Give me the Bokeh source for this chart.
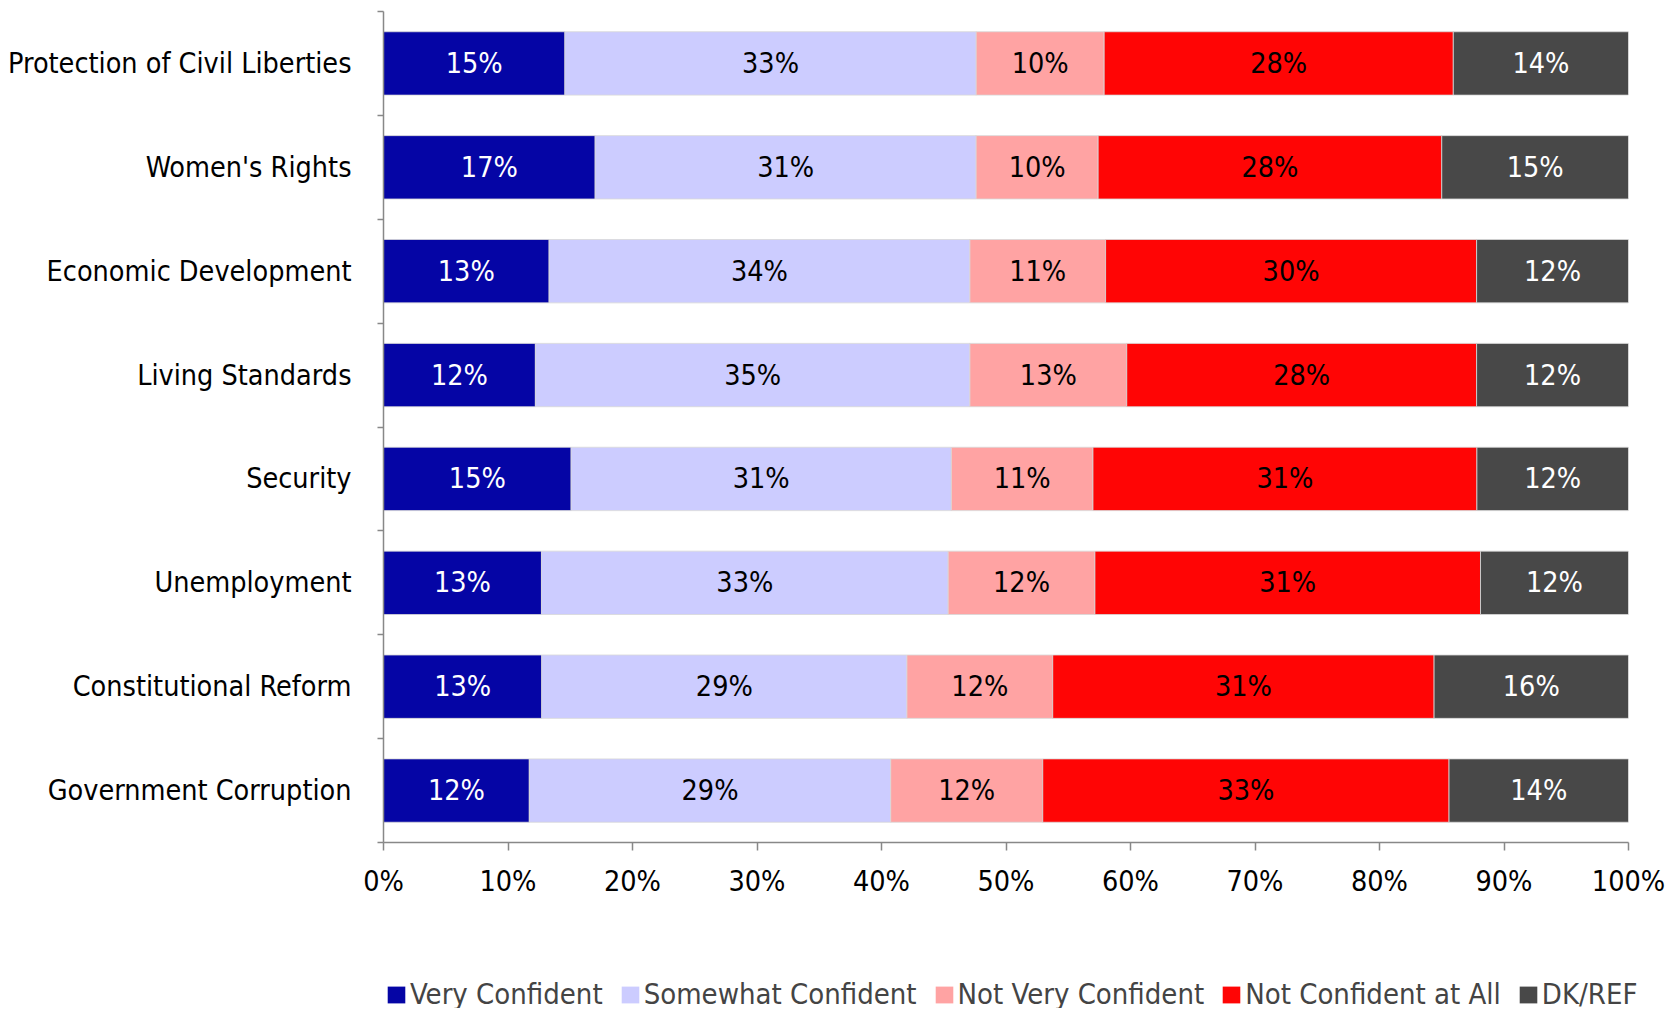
from bokeh.plotting import figure
from bokeh.layouts import column
from bokeh.models import (Range1d, FixedTicker, Legend, LegendItem, ColumnDataSource,
                          CustomJSTickFormatter)
from bokeh.core.properties import value
from bokeh.embed import file_html
from bokeh.resources import INLINE

categories = ["Protection of Civil Liberties", "Women's Rights", "Economic Development",
              "Living Standards", "Security", "Unemployment", "Constitutional Reform",
              "Government Corruption"]
series_names = ["Very Confident", "Somewhat Confident", "Not Very Confident",
                "Not Confident at All", "DK/REF"]
very_confident = [14.6, 17.0, 13.3, 12.2, 15.1, 12.7, 12.7, 11.7]
somewhat_confident = [33.1, 30.6, 33.8, 34.9, 30.6, 32.7, 29.3, 29.0]
not_very_confident = [10.3, 9.8, 10.9, 12.6, 11.4, 11.8, 11.7, 12.2]
not_confident_at_all = [28.1, 27.6, 29.8, 28.1, 30.9, 31.0, 30.6, 32.6]
dk_ref = [14.1, 15.0, 12.2, 12.2, 12.2, 11.9, 15.6, 14.4]
x_ticks = [0, 10, 20, 30, 40, 50, 60, 70, 80, 90, 100]

colors = ["#0505A5", "#CCCCFF", "#FFA3A3", "#FF0505", "#484848"]
text_colors = ["white", "black", "black", "black", "white"]
FONT = "DejaVu Sans Condensed"
FS = "28.5px"
W = 1668

series = [very_confident, somewhat_confident, not_very_confident, not_confident_at_all, dk_ref]
n = len(categories)
totals = [sum(s[i] for s in series) for i in range(n)]

p = figure(width=W, height=902, output_backend="svg", toolbar_location=None,
           x_range=Range1d(0, 100), y_range=Range1d(n, 0),
           min_border_left=383, min_border_right=40, min_border_top=11, min_border_bottom=60)
p.outline_line_color = None
p.xgrid.visible = False
p.ygrid.visible = False

ys = [i + 0.5 for i in range(n)]
left = [0.0] * n
for k, s in enumerate(series):
    w = [s[i] / totals[i] * 100 for i in range(n)]
    right = [left[i] + w[i] for i in range(n)]
    src = ColumnDataSource(dict(y=ys, left=left, right=right,
                                mid=[(left[i] + right[i]) / 2 for i in range(n)],
                                lab=[f"{v:.0f}%" for v in s]))
    p.hbar(y="y", left="left", right="right", height=0.61, source=src,
           fill_color=colors[k], line_color="#D8D8D8", line_width=1, line_alpha=0.8)
    p.text(x="mid", y="y", text="lab", source=src, text_align="center",
           text_baseline="middle", text_color=text_colors[k],
           text_font=value(FONT), text_font_size=FS)
    left = right

# y axis
p.yaxis.ticker = FixedTicker(ticks=ys, minor_ticks=list(range(n + 1)))
p.yaxis.major_label_overrides = {y: c for y, c in zip(ys, categories)}
p.yaxis.major_tick_out = 0
p.yaxis.major_tick_in = 0
p.yaxis.minor_tick_out = 6
p.yaxis.minor_tick_in = 0
p.yaxis.major_label_standoff = 26
p.yaxis.major_label_text_font = FONT
p.yaxis.major_label_text_font_size = FS
p.yaxis.major_label_text_color = "black"
p.yaxis.axis_line_color = "#888888"
p.yaxis.axis_line_width = 1.5
p.yaxis.minor_tick_line_color = "#888888"
p.yaxis.minor_tick_line_width = 1.5

# x axis
p.xaxis.ticker = FixedTicker(ticks=x_ticks, minor_ticks=[])
p.xaxis.formatter = CustomJSTickFormatter(code="return tick + '%';")
p.xaxis.major_tick_out = 8
p.xaxis.major_tick_in = 0
p.xaxis.minor_tick_out = 0
p.xaxis.major_label_standoff = 14
p.xaxis.major_label_text_font = FONT
p.xaxis.major_label_text_font_size = FS
p.xaxis.major_label_text_color = "black"
p.xaxis.axis_line_color = "#888888"
p.xaxis.axis_line_width = 1.5
p.xaxis.major_tick_line_color = "#888888"
p.xaxis.major_tick_line_width = 1.5

# legend strip (swatch glyphs lie outside the visible range; only the legend shows)
lg = figure(width=W, height=106, output_backend="svg", toolbar_location=None,
            x_range=Range1d(0, 1), y_range=Range1d(0, 1),
            x_axis_type=None, y_axis_type=None,
            min_border_left=0, min_border_right=0, min_border_top=0, min_border_bottom=0)
lg.outline_line_color = None
unaligned = True
try:
    lg.frame_align = False
except Exception:
    unaligned = False
items = []
for k, name in enumerate(series_names):
    r = lg.hbar(y=[5], left=[5], right=[6], height=0.5, fill_color=colors[k], line_color=None)
    items.append(LegendItem(label=name, renderers=[r]))
legend = Legend(items=items, orientation="horizontal",
                location=(385 if unaligned else 2, -3),
                glyph_width=22, glyph_height=21, label_standoff=3, spacing=16,
                padding=0, margin=0, border_line_color=None, background_fill_alpha=0,
                label_text_font=FONT, label_text_font_size="29px", label_height=17)
lg.add_layout(legend, "center")

open("out.html", "w").write(file_html(column(p, lg, spacing=0), INLINE))
